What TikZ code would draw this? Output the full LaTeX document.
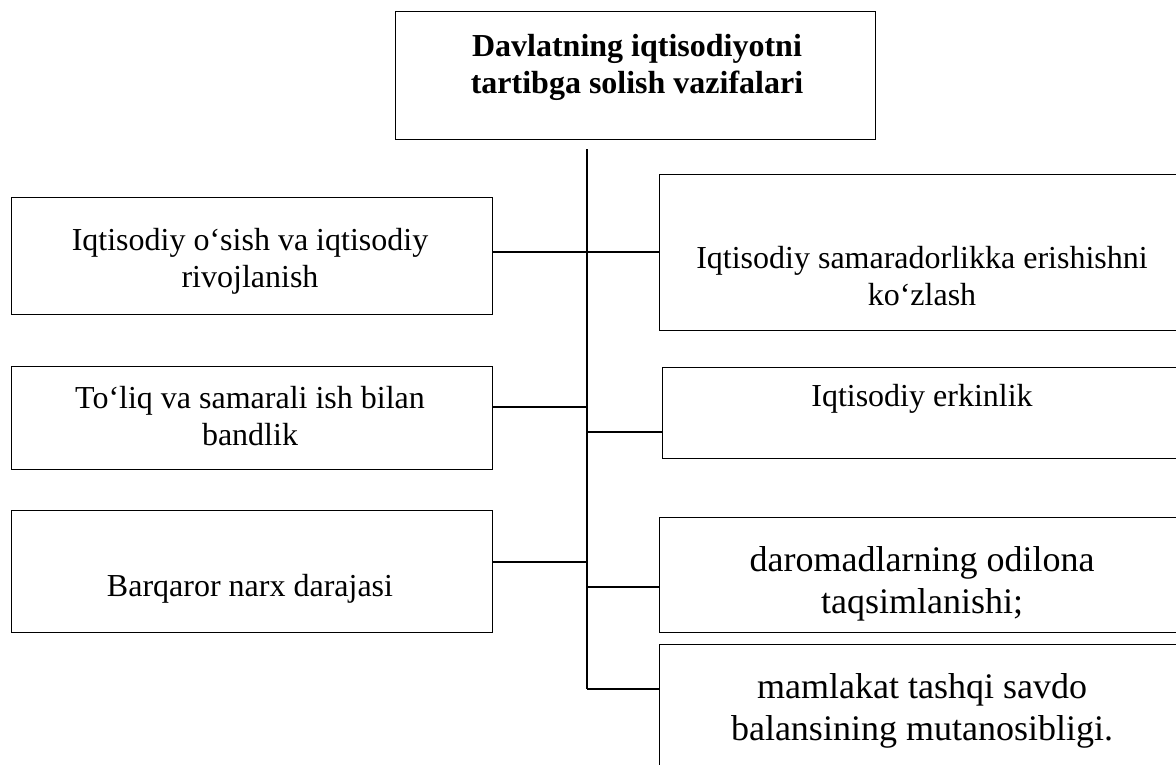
\documentclass[tikz,border=0pt]{standalone}
\usepackage{fontspec}
\setmainfont{Liberation Serif}
\begin{document}
\begin{tikzpicture}[x=1pt,y=-1pt,
  box/.style={draw, line width=1.25pt, inner sep=0pt, anchor=north west},
  wire/.style={line width=1.15pt},
  txt/.style={align=center, inner sep=0pt, font=\fontsize{32}{37}\selectfont},
  bigtxt/.style={align=center, inner sep=0pt, font=\fontsize{36}{41.5}\selectfont},
  headtxt/.style={align=center, inner sep=0pt, font=\fontsize{32}{37}\selectfont\bfseries},
]
\useasboundingbox (0,0) rectangle (1176,764);
\clip (0,0) rectangle (1176,764);
\fill[white] (0,0) rectangle (1176,764);

% boxes
\node[box, minimum width=480pt, minimum height=128pt] (title) at (395,11) {};
\node[box, minimum width=481pt, minimum height=117pt] (l1) at (11,197) {};
\node[box, minimum width=481pt, minimum height=103pt] (l2) at (11,366) {};
\node[box, minimum width=481pt, minimum height=122pt] (l3) at (11,510) {};
\node[box, minimum width=526pt, minimum height=156pt] (r1) at (659,174) {};
\node[box, minimum width=523pt, minimum height=91pt]  (r2) at (662,367) {};
\node[box, minimum width=526pt, minimum height=115pt] (r3) at (659,517) {};
\node[box, minimum width=526pt, minimum height=140pt] (r4) at (659,644) {};

% labels
\node[headtxt] (titlet) at (637,67.5) {Davlatning iqtisodiyotni\\tartibga solish vazifalari};
\node[txt] (l1t) at (250,261.5) {Iqtisodiy o‘sish va iqtisodiy\\rivojlanish};
\node[txt] (l2t) at (250,416.5) {To‘liq va samarali ish bilan\\bandlik};
\node[txt] (l3t) at (250,588.5) {Barqaror narx darajasi};
\node[txt] (r1t) at (922,276) {Iqtisodiy samaradorlikka erishishni\\ko‘zlash};
\node[txt] (r2t) at (922,399) {Iqtisodiy erkinlik};
\node[bigtxt] (r3t) at (922,584) {daromadlarning odilona\\taqsimlanishi;};
\node[bigtxt] (r4t) at (922,711) {mamlakat tashqi savdo\\balansining mutanosibligi.};

% trunk and branches
\coordinate (tt) at (587,149);
\coordinate (tb) at (587,689);
\draw[wire] (tt) -- (tb);
\coordinate (j1) at (587,252);
\coordinate (j2) at (587,407);
\coordinate (j3) at (587,432);
\coordinate (j4) at (587,562);
\coordinate (j5) at (587,587);
\draw[wire] (j1 -| l1.east) -- (j1 -| r1.west);
\draw[wire] (j2 -| l2.east) -- (j2);
\draw[wire] (j3) -- (j3 -| r2.west);
\draw[wire] (j4 -| l3.east) -- (j4);
\draw[wire] (j5) -- (j5 -| r3.west);
\draw[wire] (tb) -- (tb -| r4.west);
\end{tikzpicture}
\end{document}
